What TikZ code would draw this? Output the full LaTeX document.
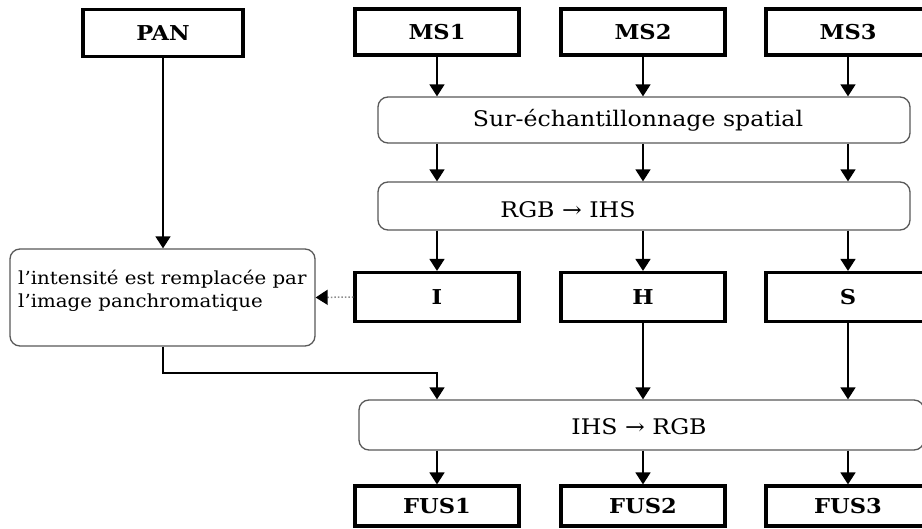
\documentclass[tikz,border=0pt]{standalone}
\usepackage{fontspec}
\setmainfont{DejaVu Serif}[FakeStretch=1.1]
\usetikzlibrary{arrows.meta}

\tikzset{
  sqbox/.style={draw=black, line width=3.2pt, minimum width=164pt, minimum height=46pt,
    inner sep=0pt, font=\bfseries\fontsize{20.5}{24}\selectfont},
  rbox/.style={draw=black!65, line width=1.3pt, rounded corners=10pt, inner sep=0pt},
  rtext/.style={font=\fontsize{21.5}{25}\selectfont, inner sep=0pt},
  link/.style={line width=1.7pt, -{Triangle[width=15pt,length=12pt]}},
  dotlink/.style={draw=black!45, line width=1.5pt, dotted,
    -{Triangle[width=15pt,length=12pt,color=black]}}
}

\begin{document}
\begin{tikzpicture}[x=1pt,y=-1pt]
  \useasboundingbox (0,0) rectangle (922,529);
  \clip (0,0) rectangle (922,529);
  \fill[white] (0,0) rectangle (922,529);

  % inputs
  \node[sqbox, minimum width=160pt, minimum height=47pt] (pan) at (163,33) {PAN};
  \node[sqbox] (ms1) at (437,32) {MS1};
  \node[sqbox] (ms2) at (643,32) {MS2};
  \node[sqbox] (ms3) at (848,32) {MS3};

  % resampling and forward transform
  \node[rbox, minimum width=532pt, minimum height=46pt] (sur) at (644,120) {};
  \node[rtext] (surt) at (638,120) {Sur-échantillonnage spatial};
  \node[rbox, minimum width=532pt, minimum height=48pt] (fwd) at (644,206) {};
  \node[rtext] (fwdt) at (568,210) {RGB → IHS};

  % components
  \node[sqbox, minimum height=49pt] (ci) at (437,297) {I};
  \node[sqbox, minimum height=49pt] (ch) at (643,297) {H};
  \node[sqbox, minimum height=49pt] (cs) at (848,297) {S};

  % substitution of the intensity
  \node[rbox, minimum width=305pt, minimum height=97pt] (rep) at (162.5,297.5) {};
  \node[font=\fontsize{18}{23}\selectfont, inner sep=0pt, anchor=north west, align=left]
    (rept) at (18,270) {l’intensité est remplacée par\\l’image panchromatique};

  % inverse transform and outputs
  \node[rbox, minimum width=565pt, minimum height=50pt] (inv) at (641.5,425) {};
  \node[rtext] (invt) at (639,427) {IHS → RGB};
  \node[sqbox, minimum height=40pt] (f1) at (437,506) {FUS1};
  \node[sqbox, minimum height=40pt] (f2) at (643,506) {FUS2};
  \node[sqbox, minimum height=40pt] (f3) at (848,506) {FUS3};

  \coordinate (bend1) at (163,373);
  \coordinate (bend2) at (437,373);

  % connectors
  \draw[link] (ms1.south) -- (ms1.south |- sur.north);
  \draw[link] (ms2.south) -- (ms2.south |- sur.north);
  \draw[link] (ms3.south) -- (ms3.south |- sur.north);
  \draw[link] (ms1.south |- sur.south) -- (ms1.south |- fwd.north);
  \draw[link] (ms2.south |- sur.south) -- (ms2.south |- fwd.north);
  \draw[link] (ms3.south |- sur.south) -- (ms3.south |- fwd.north);
  \draw[link] (ci.north |- fwd.south) -- (ci.north);
  \draw[link] (ch.north |- fwd.south) -- (ch.north);
  \draw[link] (cs.north |- fwd.south) -- (cs.north);
  \draw[link] (pan.south) -- (pan.south |- rep.north);
  \draw[dotlink] (ci.west) -- (rep.east);
  \draw[link] (rep.south -| bend1) -- (bend1) -- (bend2) -- (bend2 |- inv.north);
  \draw[link] (ch.south) -- (ch.south |- inv.north);
  \draw[link] (cs.south) -- (cs.south |- inv.north);
  \draw[link] (f1.north |- inv.south) -- (f1.north);
  \draw[link] (f2.north |- inv.south) -- (f2.north);
  \draw[link] (f3.north |- inv.south) -- (f3.north);
\end{tikzpicture}
\end{document}
